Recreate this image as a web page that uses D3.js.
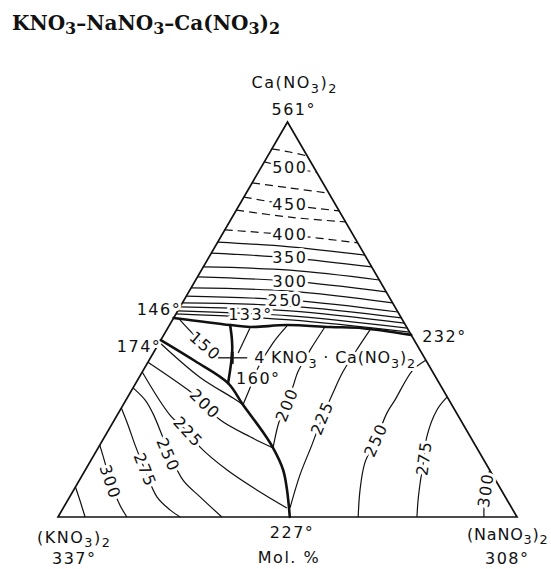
<!DOCTYPE html>
<html>
<head>
<meta charset="utf-8">
<script src="https://cdn.jsdelivr.net/npm/d3@7"></script>
<style>
  body { margin: 0; background: #fff; }
  svg { display: block; }
  .lab { font-family: "DejaVu Sans", sans-serif; font-size: 16px; fill: #111; letter-spacing: 1.5px; }
  .tight { letter-spacing: 0.8px; }
  .halo { stroke: #fff; stroke-width: 6px; paint-order: stroke; stroke-linejoin: round; }
  .title { font-family: "DejaVu Serif", serif; font-weight: bold; font-size: 20px; fill: #111; }
</style>
</head>
<body>
<svg id="chart"></svg>
<script>
// compositions are mol % as [Ca(NO3)2, (NaNO3)2]; the rest is (KNO3)2

// field boundaries
let boundaryCa = [[50.4,0],[48.6,13.2],[48.1,17.8],[48.6,25.6],[48.1,35.2],[47.8,42.5],[46.1,53.9]];
let boundaryCompound = [[48.6,13.2],[44.8,15.5],[41.5,17.2],[37.2,18.9],[33.9,20.1]];
let boundaryKNO3 = [[44.8,0],[39.5,10.1],[33.9,20.1],[28.4,26.1],[21.5,33.9],[17.5,38.1],[11.9,43.1],[6.8,46.5],[0,50.5]];

// isotherms in the Ca(NO3)2 field
let caIsotherms = [
  {t: 525, pts: [[93.2,0],[92.4,4.3],[91.4,8.6]]},
  {t: 500, pts: [[89.9,0],[88.4,6.3],[87.3,12.7]]},
  {t: 475, pts: [[84.6,0],[83.3,8.9],[82.0,18.0]]},
  {t: 450, pts: [[81.0,0],[79.0,11.0],[77.5,22.5]]},
  {t: 425, pts: [[77.7,0],[75.9,12.6],[74.7,25.3]]},
  {t: 400, pts: [[72.7,0],[71.4,14.8],[69.4,30.6]]},
  {t: 375, pts: [[69.6,0],[68.4,16.3],[66.3,33.7]]},
  {t: 350, pts: [[66.8,0],[65.6,17.7],[63.3,36.7]]},
  {t: 325, pts: [[63.3,0],[62.5,19.3],[60.0,40.0]]},
  {t: 300, pts: [[60.8,0],[59.7,20.7],[57.0,43.0]]},
  {t: 275, pts: [[58.0,0],[57.2,21.9],[54.2,45.8]]},
  {t: 250, pts: [[55.9,0],[54.9,23.1],[51.9,48.1]]},
  {t: 225, pts: [[54.2,0],[53.4,23.8],[50.4,49.6]]},
  {t: 200, pts: [[53.2,0],[52.2,24.4],[49.1,50.9]]},
  {t: 175, pts: [[52.2,0],[50.9,25.1],[47.8,52.2]]},
  {t: 160, pts: [[51.4,0],[49.9,25.6],[46.8,53.2]]}
];

// isotherm in the 4KNO3.Ca(NO3)2 field
let compoundIsotherms = [
  {t: 150, pts: [[49.9,1.6],[46.3,6.3],[43.3,10.4],[40.5,15.0]]}
];

// isotherms in the KNO3 field
let kIsotherms = [
  {t: 175, pts: [[44.0,0.3],[35.4,13.2],[30.1,23.1],[28.4,26.1]]},
  {t: 200, pts: [[39.2,0],[32.2,12.2],[28.6,17.7],[24.6,23.0],[20.3,31.7],[17.5,38.1]]},
  {t: 225, pts: [[36.7,0],[25.8,11.5],[21.5,17.6],[17.7,22.1],[11.9,30.9],[6.8,40.0],[2.3,48.7]]},
  {t: 250, pts: [[32.7,0],[29.6,4.2],[26.3,7.5],[17.0,15.5],[9.4,22.5],[5.1,28.4],[0,35.7]]},
  {t: 275, pts: [[27.6,0],[23.3,3.6],[18.2,7.7],[11.9,13.0],[5.1,19.0],[1.8,23.5],[0,26.6]]},
  {t: 300, pts: [[18.2,0],[13.7,3.4],[8.9,6.9],[3.0,12.0],[0,15.0]]},
  {t: 325, pts: [[7.6,0],[4.3,2.6],[0,5.9]]}
];

// isotherms in the NaNO3 field
let naIsotherms = [
  {t: 150, pts: [[47.8,17.9],[41.5,18.5]]},
  {t: 175, pts: [[48.4,25.7],[44.1,24.8],[37.7,24.7],[32.7,25.5],[28.4,26.1]]},
  {t: 200, pts: [[48.1,34.1],[42.3,33.8],[36.7,33.9],[32.9,34.7],[28.4,35.3],[23.3,36.3],[17.5,38.1]]},
  {t: 225, pts: [[47.3,44.3],[43.5,44.0],[36.7,43.7],[31.4,44.2],[25.1,45.0],[18.2,46.2],[10.6,47.4],[2.3,49.4]]},
  {t: 250, pts: [[39.7,60.3],[37.2,58.7],[29.6,58.6],[26.3,58.5],[19.5,59.5],[13.7,60.0],[6.8,62.4],[0,65.4]]},
  {t: 275, pts: [[30.4,69.6],[27.1,69.0],[20.3,70.2],[14.9,72.3],[8.6,74.6],[4.3,76.3],[0,78.2]]},
  {t: 300, pts: [[11.9,88.1],[6.8,89.8],[1.8,91.9],[0,92.8]]}
];

// isotherm labels: text, Ca, Na
let isoLabels = [
  ["500", 88.4, 6.3], ["450", 79.0, 11.0], ["400", 71.4, 14.8], ["350", 65.6, 17.7],
  ["300", 59.7, 20.7], ["250", 54.9, 22.0], ["150", 43.3, 10.4],
  ["200", 28.6, 17.7], ["225", 21.5, 17.6], ["250", 15.7, 16.1], ["275", 11.9, 13.0], ["300", 8.9, 6.9],
  ["200", 28.4, 35.7], ["225", 25.1, 45.0], ["250", 19.5, 59.5], ["275", 14.9, 72.3], ["300", 6.8, 89.8]
];

// invariant points and melting points
let invariants = [
  {name: "561°", c: 100, b: 0},
  {name: "146°", c: 50.4, b: 0},
  {name: "174°", c: 44.8, b: 0},
  {name: "133°", c: 48.6, b: 13.2},
  {name: "232°", c: 46.1, b: 53.9},
  {name: "160°", c: 33.9, b: 20.1},
  {name: "227°", c: 0, b: 50.5},
  {name: "337°", c: 0, b: 0},
  {name: "308°", c: 0, b: 100}
];

// composition of the compound 4KNO3.Ca(NO3)2 as drawn
let compoundPoint = [40.3, 17.8];

// ---------------------------------------------------------------
let W = 551, H = 569;
let svg = d3.select('#chart').attr('width', W).attr('height', H);

let x = d3.scaleLinear().domain([0, 100]).range([58, 517]);
let y = d3.scaleLinear().domain([0, 100]).range([517, 122]);
let px = d => x(d[1] + d[0] / 2);
let py = d => y(d[0]);

let curve = d3.line().x(px).y(py).curve(d3.curveCatmullRom.alpha(0.5));
let straight = d3.line().x(px).y(py);

// title
let title = svg.append('text').attr('class', 'title').attr('x', 12).attr('y', 30);
function chem(sel, parts, sub) {
  parts.forEach(p => {
    sel.append('tspan')
      .attr('dy', p[1] ? sub : (p[2] ? -sub : null))
      .style('font-size', p[1] ? '0.8em' : null)
      .text(p[0]);
  });
}
chem(title, [["KNO",0],["3",1],["–NaNO",0,1],["3",1],["–Ca(NO",0,1],["3",1],[")",0,1],["2",1]], 4);

// triangle
svg.append('path')
  .attr('d', straight([[0,0],[0,100],[100,0]]) + 'Z')
  .attr('fill', 'none').attr('stroke', '#111').attr('stroke-width', 1.7)
  .attr('stroke-linejoin', 'miter');

// isotherms
let contourG = svg.append('g').attr('fill', 'none').attr('stroke', '#111').attr('stroke-width', 1.2);
let allIso = caIsotherms.concat(compoundIsotherms, kIsotherms, naIsotherms);
contourG.selectAll('path')
  .data(allIso)
  .enter().append('path')
  .attr('d', d => curve(d.pts))
  .attr('stroke-dasharray', (d, i) => i < caIsotherms.length && d.t >= 400 ? '8,5' : null);

// label angle from nearest isotherm
let nodes = contourG.selectAll('path').nodes();
function angleAt(p) {
  let best = {d: Infinity};
  nodes.forEach(node => {
    let len = node.getTotalLength();
    for (let l = 0; l <= len; l += 1) {
      let q = node.getPointAtLength(l);
      let dd = (q.x - p[0]) ** 2 + (q.y - p[1]) ** 2;
      if (dd < best.d) best = {d: dd, node: node, l: l, len: len};
    }
  });
  let a = best.node.getPointAtLength(Math.max(0, best.l - 5));
  let b = best.node.getPointAtLength(Math.min(best.len, best.l + 5));
  let ang = Math.atan2(b.y - a.y, b.x - a.x) * 180 / Math.PI;
  if (ang > 90) ang -= 180;
  if (ang <= -90) ang += 180;
  return Math.abs(ang) < 15 ? 0 : ang;
}

svg.append('g').selectAll('text')
  .data(isoLabels)
  .enter().append('text')
  .attr('class', 'lab halo')
  .attr('text-anchor', 'middle')
  .attr('dominant-baseline', 'central')
  .attr('transform', d => {
    let p = [px([d[1], d[2]]), py([d[1], d[2]])];
    return `translate(${p[0]},${p[1]}) rotate(${angleAt(p)})`;
  })
  .text(d => d[0]);

// invariant point labels
let offsets = {
  "561°": [-16, -7], "146°": [-37, -3], "174°": [-44, 12], "133°": [-2, -5],
  "232°": [11, 7], "160°": [8, 1], "227°": [-20, 21], "337°": [-6, 47], "308°": [-32, 47]
};
svg.append('g').selectAll('text')
  .data(invariants)
  .enter().append('text')
  .attr('class', 'lab halo')
  .attr('x', d => px([d.c, d.b]) + offsets[d.name][0])
  .attr('y', d => py([d.c, d.b]) + offsets[d.name][1])
  .text(d => d.name);

// component names
let apex = [px([100,0]), py([100,0])];
let left = [px([0,0]), py([0,0])];
let right = [px([0,100]), py([0,100])];
let eut = invariants.find(d => d.name === "227°");

let caName = svg.append('text').attr('class', 'lab').attr('x', apex[0] - 36).attr('y', apex[1] - 34);
chem(caName, [["Ca(NO",0],["3",1],[")",0,1],["2",1]], 5);
let kName = svg.append('text').attr('class', 'lab').attr('x', left[0] - 21).attr('y', left[1] + 26);
chem(kName, [["(KNO",0],["3",1],[")",0,1],["2",1]], 4);
let naName = svg.append('text').attr('class', 'lab tight').attr('x', right[0] - 50).attr('y', right[1] + 23);
chem(naName, [["(NaNO",0],["3",1],[")",0,1],["2",1]], 4);
svg.append('text').attr('class', 'lab')
  .attr('x', px([eut.c, eut.b]) - 32).attr('y', py([eut.c, eut.b]) + 46)
  .text('Mol. %');

// compound label
let cp = [px(compoundPoint), py(compoundPoint)];
let compLab = svg.append('text').attr('class', 'lab halo tight').attr('x', cp[0] + 22).attr('y', cp[1] + 5);
chem(compLab, [["4 KNO",0],["3",1],[" · Ca(NO",0,1],["3",1],[")",0,1],["2",1]], 5);

// boundary curves
let bG = svg.append('g').attr('fill', 'none').attr('stroke', '#111').attr('stroke-width', 2.6)
  .attr('stroke-linecap', 'round');
[boundaryCa, boundaryCompound, boundaryKNO3].forEach(b => {
  bG.append('path').attr('d', curve(b));
});

// compound marker
svg.append('line')
  .attr('x1', cp[0] - 14).attr('x2', cp[0] + 15).attr('y1', cp[1]).attr('y2', cp[1])
  .attr('stroke', '#111').attr('stroke-width', 1.3);
svg.append('line')
  .attr('x1', cp[0]).attr('x2', cp[0]).attr('y1', cp[1] - 6).attr('y2', cp[1] + 6)
  .attr('stroke', '#111').attr('stroke-width', 3);
</script>
</body>
</html>
